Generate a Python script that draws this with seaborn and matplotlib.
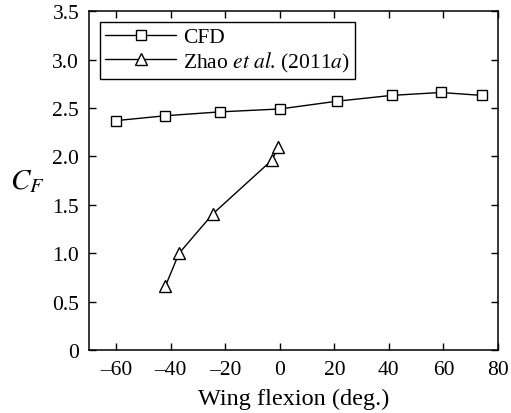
import matplotlib
matplotlib.use("Agg")
import matplotlib.pyplot as plt
import seaborn as sns
import pandas as pd
from matplotlib.ticker import FuncFormatter

# Force coefficient versus wing flexion angle
cfd_flexion = [-60, -42, -22, 0, 21, 41, 59, 74]
cfd_cf = [2.37, 2.42, 2.46, 2.49, 2.57, 2.63, 2.66, 2.63]

zhao_flexion = [-42, -37, -24.5, -3, -0.5]
zhao_cf = [0.66, 1.00, 1.41, 1.96, 2.10]

x_ticks = [-60, -40, -20, 0, 20, 40, 60, 80]
y_ticks = [0, 0.5, 1.0, 1.5, 2.0, 2.5, 3.0, 3.5]

sns.set_style("ticks")
plt.rcParams["font.family"] = ["Liberation Serif", "DejaVu Serif"]
plt.rcParams["mathtext.fontset"] = "stix"
plt.rcParams["text.color"] = "black"
plt.rcParams["axes.labelcolor"] = "black"

fig = plt.figure(figsize=(5.11, 4.14), dpi=100)
ax = fig.add_axes([0.174, 0.151, 0.8006, 0.820])

cfd = pd.DataFrame({"flexion": cfd_flexion, "cf": cfd_cf})
zhao = pd.DataFrame({"flexion": zhao_flexion, "cf": zhao_cf})

sns.lineplot(data=cfd, x="flexion", y="cf", ax=ax, color="black", lw=1.0,
             marker="s", markersize=7.2, markerfacecolor="white",
             markeredgecolor="black", markeredgewidth=1.0, label="CFD",
             estimator=None, sort=False)
sns.lineplot(data=zhao, x="flexion", y="cf", ax=ax, color="black", lw=1.0,
             marker="^", markersize=8.5, markerfacecolor="white",
             markeredgecolor="black", markeredgewidth=1.0,
             label=r"Zhao $\mathit{et\ al}$. (2011$\mathit{a}$)",
             estimator=None, sort=False)

ax.set_xlim(-70, 80)
ax.set_ylim(0, 3.5)
ax.set_xticks(x_ticks)
ax.set_yticks(y_ticks)
ax.xaxis.set_major_formatter(FuncFormatter(lambda v, p: f"{int(v)}".replace("-", "\u2013")))
ax.yaxis.set_major_formatter(FuncFormatter(lambda v, p: "0" if v == 0 else f"{v:.1f}"))

ax.tick_params(axis="both", which="major", direction="in", length=5, width=1.0,
               top=True, right=True, labelsize=15.5, pad=7, colors="black")
for s in ax.spines.values():
    s.set_visible(True)
    s.set_linewidth(1.1)
    s.set_color("black")

ax.set_xlabel("Wing flexion (deg.)", fontsize=17.5, labelpad=6)
ax.set_ylabel(r"$C_F$", fontsize=21, rotation=0, ha="center", va="center")
ax.yaxis.set_label_coords(-0.15, 0.5)

leg = ax.legend(loc="upper left", bbox_to_anchor=(0.027, 0.968), fontsize=15.5,
                frameon=True, fancybox=False, edgecolor="black",
                handlelength=3.3, handletextpad=0.3, borderpad=0.25,
                labelspacing=0.1, borderaxespad=0.0)
leg.get_frame().set_linewidth(1.0)
leg.get_frame().set_alpha(1)

fig.savefig("out.png", dpi=100)
